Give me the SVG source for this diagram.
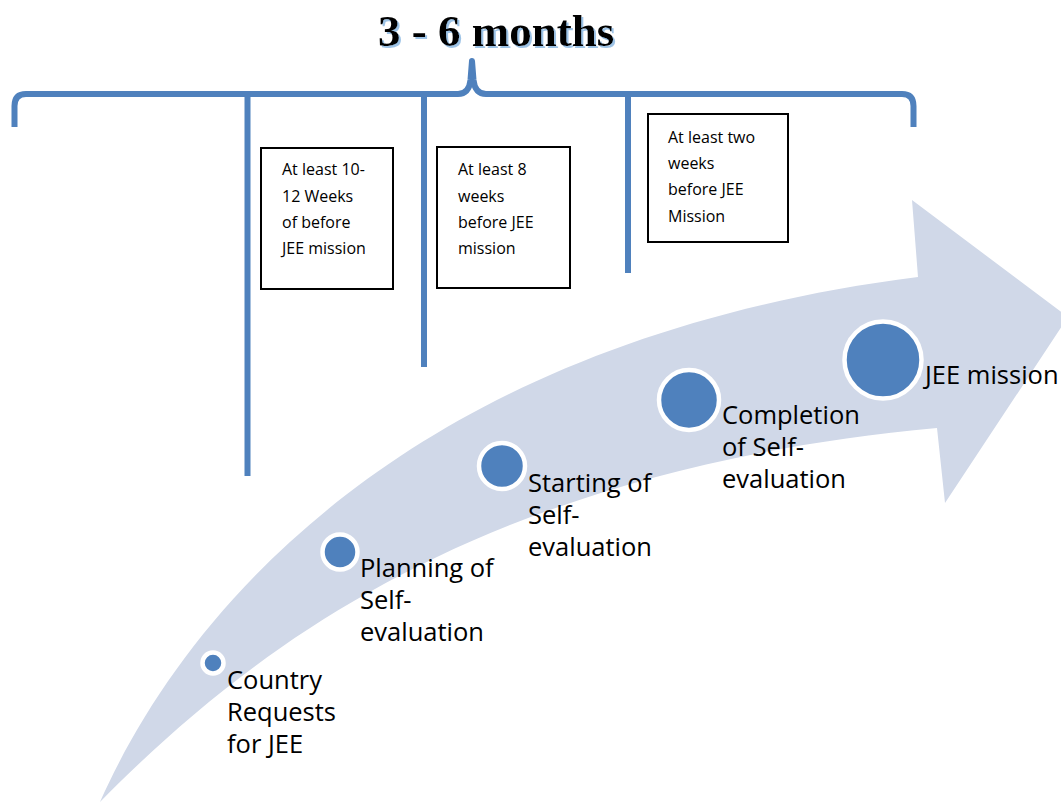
<svg xmlns="http://www.w3.org/2000/svg" width="1061" height="803" viewBox="0 0 1061 803">
  <defs>
    <filter id="titleShadow" x="-5%" y="-20%" width="115%" height="150%">
      <feDropShadow dx="2" dy="2" stdDeviation="0.4" flood-color="#9dc3e6" flood-opacity="1"/>
    </filter>
  </defs>
  <style>
    .bar { fill: none; stroke: #4f81bd; stroke-width: 6; stroke-linejoin: round; }
    .note rect { fill: #ffffff; stroke: #000000; stroke-width: 2; }
    .note text { font-family: "Open Sans", "Liberation Sans", sans-serif; font-size: 16px; fill: #000000; }
    .dot { fill: #4f81bd; stroke: #ffffff; stroke-width: 4.5; }
    .label { font-family: "Open Sans", "Liberation Sans", sans-serif; font-size: 25.5px; fill: #000000; }
    .title { font-family: "Liberation Serif", "Times New Roman", serif; font-weight: bold; font-size: 45px; fill: #000000; }
  </style>
  <rect x="0" y="0" width="1061" height="803" fill="#ffffff"/>

  <!-- curved progress arrow -->
  <g id="progress-arrow">
    <path d="M100,802 C190,600 420,340 918,277 L912,200 L1068,317 L945,503 L937,428 C480,470 250,650 100,802 Z" fill="#d0d8e8"/>
  </g>

  <!-- title -->
  <g id="title">
    <text class="title" x="378" y="46" filter="url(#titleShadow)">3 - 6 months</text>
  </g>

  <!-- brace and tick lines -->
  <g id="connectors">
    <path class="bar" d="M14.5,127 L14.5,106 Q14.5,94 26,94 L458,94 Q469,94 470.5,80 L472,61 L473.5,80 Q475,94 486,94 L902,94 Q913.5,94 913.5,106 L913.5,127"/>
    <line class="bar" x1="247.5" y1="94" x2="247.5" y2="476"/>
    <line class="bar" x1="424" y1="94" x2="424" y2="367"/>
    <line class="bar" x1="628" y1="94" x2="628" y2="273"/>
  </g>

  <!-- timing notes -->
  <g id="note-10-12-weeks" class="note">
    <rect x="261" y="148" width="132" height="141"/>
    <text x="282" y="175">At least 10-</text>
    <text x="282" y="202">12 Weeks</text>
    <text x="282" y="228">of before</text>
    <text x="282" y="254">JEE mission</text>
  </g>
  <g id="note-8-weeks" class="note">
    <rect x="437" y="147" width="133" height="141"/>
    <text x="458" y="175">At least 8</text>
    <text x="458" y="202">weeks</text>
    <text x="458" y="228">before JEE</text>
    <text x="458" y="254">mission</text>
  </g>
  <g id="note-2-weeks" class="note">
    <rect x="648" y="114" width="140" height="128"/>
    <text x="668" y="143">At least two</text>
    <text x="668" y="169">weeks</text>
    <text x="668" y="195">before JEE</text>
    <text x="668" y="222">Mission</text>
  </g>

  <!-- milestones along the arrow -->
  <g id="step-country-requests">
    <circle class="dot" cx="213" cy="663" r="10.5"/>
    <text class="label" x="227" y="689">Country</text>
    <text class="label" x="227" y="721">Requests</text>
    <text class="label" x="227" y="753">for JEE</text>
  </g>
  <g id="step-planning">
    <circle class="dot" cx="340" cy="552" r="17.5"/>
    <text class="label" x="360" y="577">Planning of</text>
    <text class="label" x="360" y="609">Self-</text>
    <text class="label" x="360" y="641">evaluation</text>
  </g>
  <g id="step-starting">
    <circle class="dot" cx="502" cy="466" r="23"/>
    <text class="label" x="528" y="492">Starting of</text>
    <text class="label" x="528" y="524">Self-</text>
    <text class="label" x="528" y="556">evaluation</text>
  </g>
  <g id="step-completion">
    <circle class="dot" cx="689" cy="400" r="30"/>
    <text class="label" x="722" y="424">Completion</text>
    <text class="label" x="722" y="456">of Self-</text>
    <text class="label" x="722" y="488">evaluation</text>
  </g>
  <g id="step-jee-mission">
    <circle class="dot" cx="883" cy="360" r="38.5"/>
    <text class="label" x="925" y="384">JEE mission</text>
  </g>
</svg>
